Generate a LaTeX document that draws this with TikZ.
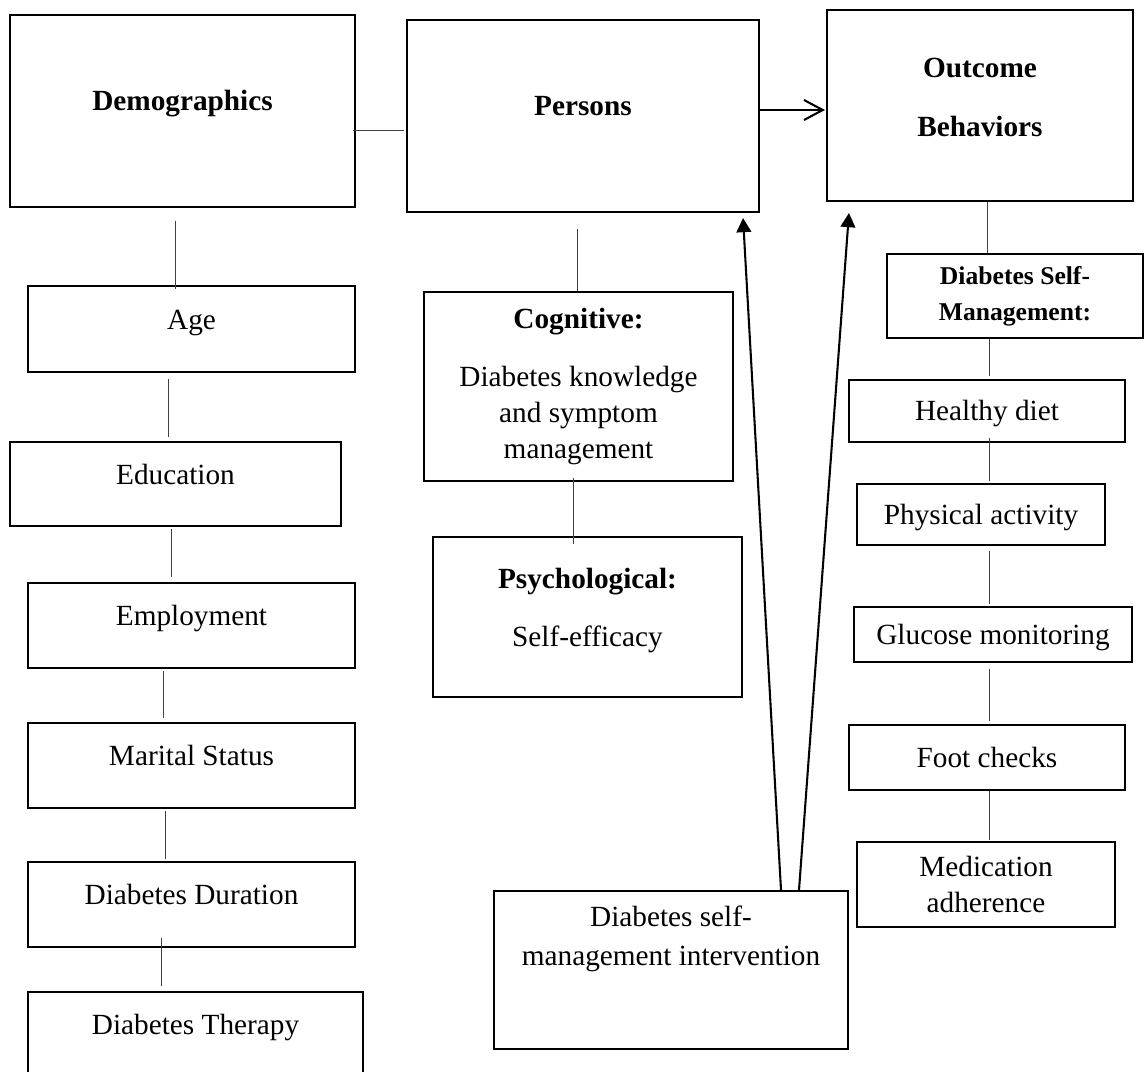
\documentclass[tikz,border=0pt]{standalone}
\usepackage{fontspec}
\setmainfont{Liberation Serif}
\usetikzlibrary{arrows.meta}

\newcommand{\lowstrut}[1]{\rule[-#1]{0pt}{#1}}

\begin{document}
\begin{tikzpicture}[x=0.41pt,y=-0.41pt,
	font=\fontsize{12}{14.8}\selectfont,
	box/.style={draw,line width=0.85pt,inner sep=0pt,align=center},
	cell/.style={box,text height=8pt,text depth=0pt},
	up/.style={box,text height=8pt,text depth=8pt},
	link/.style={line width=0.4pt,black!75},
	flow/.style={line width=0.85pt,-{Triangle[length=5.8pt,width=6pt]}}]
	\useasboundingbox (0,0) rectangle (1144,1072);
	\clip (0,0) rectangle (1144,1072);

	% left column
	\node [up,minimum width=141.45pt,minimum height=78.72pt] (demo) at (182.5,111) {\textbf{Demographics}};
	\node [up,minimum width=134.07pt,minimum height=35.26pt] (age) at (191.5,329) {Age};
	\node [up,minimum width=135.71pt,minimum height=34.44pt] (edu) at (175.5,484) {Education};
	\node [up,minimum width=134.07pt,minimum height=34.85pt] (emp) at (191.5,625.5) {Employment};
	\node [up,minimum width=134.07pt,minimum height=34.85pt] (mar) at (191.5,765.5) {Marital Status};
	\node [up,minimum width=134.07pt,minimum height=34.85pt] (dur) at (191.5,904.5) {Diabetes Duration};
	\node [up,minimum width=137.35pt,minimum height=34.85pt] (ther) at (195.5,1034.5) {Diabetes Therapy};

	% middle column
	\node [up,minimum width=144.32pt,minimum height=78.72pt] (persons) at (583,116) {\textbf{Persons}};
	\node [box,minimum width=126.69pt,minimum height=77.49pt] (cog) at (578.5,386.5)
		{\textbf{Cognitive:}\\[9pt]Diabetes knowledge\\and symptom\\management};
	\node [box,minimum width=126.69pt,minimum height=65.6pt] (psy) at (587.5,617)
		{\textbf{Psychological:}\\[9pt]Self-efficacy\lowstrut{8pt}};
	\node [box,minimum width=145.14pt,minimum height=64.78pt] (interv) at (671,970)
		{Diabetes self-\\[1.2pt]management intervention\lowstrut{28pt}};

	% right column
	\node [box,minimum width=125.46pt,minimum height=78.31pt] (outcome) at (980,105.5)
		{\textbf{Outcome}\\[9.4pt]\textbf{Behaviors}\lowstrut{6.6pt}};
	\node [box,minimum width=104.96pt,minimum height=34.44pt] (dsm) at (1015,296)
		{\fontsize{10.5}{13.1}\selectfont\bfseries Diabetes Self-\\\fontsize{10.5}{13.1}\selectfont\bfseries Management:};
	\node [cell,minimum width=113.16pt,minimum height=25.42pt] (diet) at (987,411) {Healthy diet};
	\node [cell,minimum width=101.68pt,minimum height=25.01pt] (phys) at (981,514.5) {Physical activity};
	\node [cell,minimum width=113.98pt,minimum height=22.55pt] (gluc) at (993,634.5) {Glucose monitoring};
	\node [cell,minimum width=113.16pt,minimum height=26.65pt] (foot) at (987,757.5) {Foot checks};
	\node [box,minimum width=105.78pt,minimum height=34.85pt] (med) at (986,884.5) {Medication\\adherence};

	% plain links
	\draw [link] ([shift={(-7.5,13)}]demo.south) -- ([shift={(-16.5,4)}]age.north);
	\draw [link] ([shift={(-23.5,6)}]age.south) -- ([shift={(-7.5,-4)}]edu.north);
	\draw [link] ([shift={(-4.5,2)}]edu.south) -- ([shift={(-20.5,-5)}]emp.north);
	\draw [link] ([shift={(-28.5,2)}]emp.south) -- ([shift={(-28.5,-4)}]mar.north);
	\draw [link] ([shift={(-26.5,2)}]mar.south) -- ([shift={(-26.5,-2)}]dur.north);
	\draw [link] ([shift={(-30.5,-10)}]dur.south) -- ([shift={(-34.5,-5)}]ther.north);
	\draw [link] ([shift={(-3,19)}]demo.east) -- ([shift={(-2,14)}]persons.west);
	\draw [link] ([shift={(-6,16)}]persons.south) -- ([shift={(-1.5,0)}]cog.north);
	\draw [link] ([shift={(-5.5,-4)}]cog.south) -- ([shift={(-14.5,8)}]psy.north);
	\draw [link] ([shift={(7,0)}]outcome.south) -- ([shift={(-28,0)}]dsm.north);
	\draw [link] ([shift={(-26,0)}]dsm.south) -- ([shift={(2,-3)}]diet.north);
	\draw [link] ([shift={(2,-5)}]diet.south) -- ([shift={(8,-2)}]phys.north);
	\draw [link] ([shift={(8,5)}]phys.south) -- ([shift={(-4,-2)}]gluc.north);
	\draw [link] ([shift={(-4,6)}]gluc.south) -- ([shift={(2,-3)}]foot.north);
	\draw [link] ([shift={(2,0)}]foot.south) -- ([shift={(3,-1)}]med.north);

	% arrows
	\draw [line width=0.85pt,-{Straight Barb[length=7.7pt,width=8.2pt]}] ([shift={(0,-6)}]persons.east) -- ([shift={(-1,4.5)}]outcome.west);
	\draw [flow] ([shift={(110,0)}]interv.north) -- ([shift={(-17,5)}]persons.south east);
	\draw [flow] ([shift={(128,0)}]interv.north) -- ([shift={(23,11)}]outcome.south west);
\end{tikzpicture}
\end{document}
